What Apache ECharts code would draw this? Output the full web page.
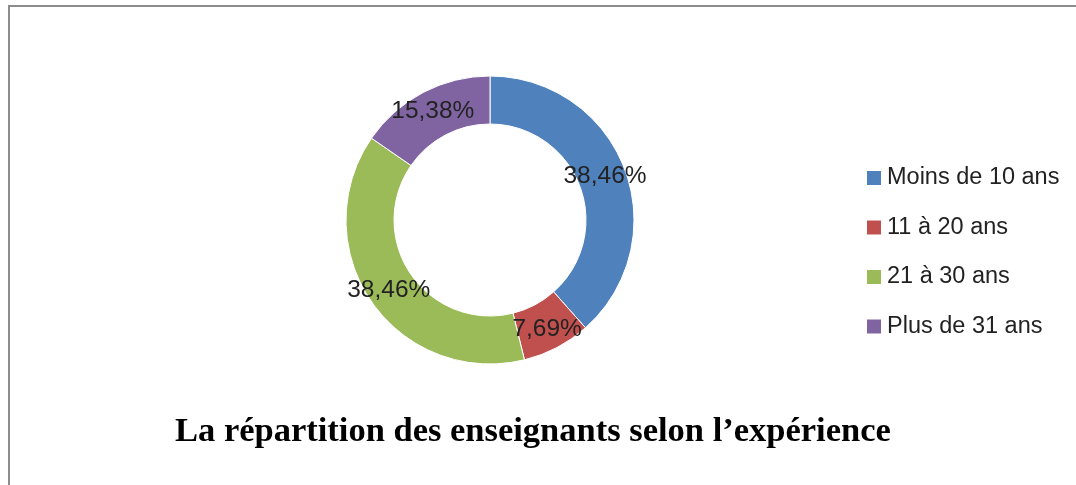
<!DOCTYPE html>
<html>
<head>
<meta charset="utf-8">
<script src="https://cdn.jsdelivr.net/npm/echarts@6/dist/echarts.min.js"></script>
<style>
    html, body { margin: 0; padding: 0; background: #fff; }
    #wrap { position: relative; width: 1076px; height: 485px; }
    #frame {
        position: absolute; left: 8px; top: 5px; right: -4px; bottom: -4px;
        border-left: 2px solid #8c8c8c; border-top: 2px solid #8c8c8c;
    }
    #chart { position: absolute; left: 0; top: 0; width: 1076px; height: 485px; }
</style>
</head>
<body>
<div id="wrap">
    <div id="frame"></div>
    <div id="chart"></div>
</div>
<script>
// tranches d'expérience et parts (%)
const categories = ['Moins de 10 ans', '11 à 20 ans', '21 à 30 ans', 'Plus de 31 ans'];
const shares = [38.46, 7.69, 38.46, 15.38];
const colors = ['#4f81bd', '#c0504d', '#9bbb59', '#8064a2'];
const titleText = 'La répartition des enseignants selon l\u2019expérience';

const chart = echarts.init(document.getElementById('chart'), null, { renderer: 'canvas' });

function pct(v) {
    return v.toFixed(2).replace('.', ',') + '%';
}

chart.setOption({
    animation: false,
    title: {
        text: titleText,
        left: 170,
        top: 410,
        textStyle: {
            fontFamily: '"Liberation Serif", "Times New Roman", serif',
            fontWeight: 'bold',
            fontSize: 34.5,
            color: '#000'
        }
    },
    legend: {
        orient: 'vertical',
        left: 860,
        top: 161,
        icon: 'rect',
        itemWidth: 16,
        itemHeight: 16,
        itemGap: 25.5,
        data: categories,
        textStyle: {
            fontFamily: '"Liberation Sans", Arial, sans-serif',
            fontSize: 23.5,
            lineHeight: 23,
            color: '#222'
        }
    },
    series: [{
        type: 'pie',
        center: [490, 220],
        radius: [96, 144],
        startAngle: 90,
        clockwise: true,
        avoidLabelOverlap: false,
        itemStyle: { borderColor: '#fff', borderWidth: 1 },
        label: {
            show: true,
            position: 'inside',
            formatter: p => pct(p.value),
            fontFamily: '"Liberation Sans", Arial, sans-serif',
            fontSize: 24.5,
            color: '#222'
        },
        labelLine: { show: false },
        emphasis: { disabled: true },
        data: categories.map((name, i) => ({
            name,
            value: shares[i],
            itemStyle: { color: colors[i] }
        }))
    }]
});
</script>
</body>
</html>
